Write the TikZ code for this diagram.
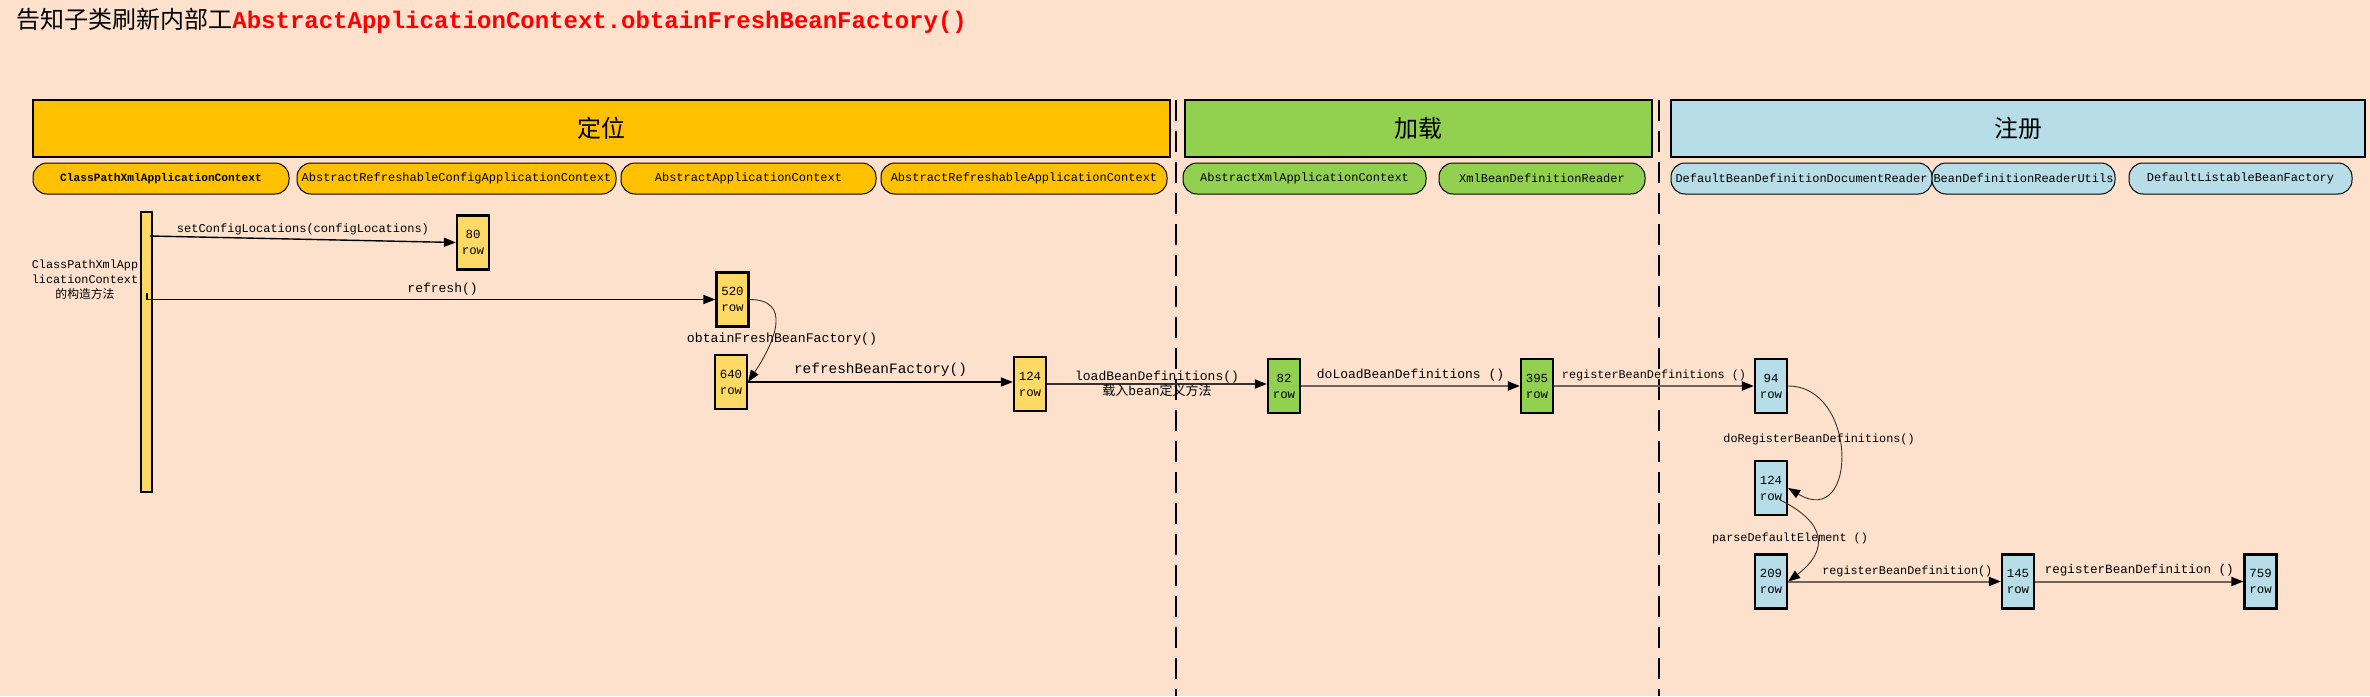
\documentclass[tikz,border=0pt]{standalone}
\usepackage{fontspec}
\setmainfont{Liberation Mono}
\newfontfamily\cjk{Noto Sans CJK SC}
\usepackage{tikz}
\usetikzlibrary{arrows.meta,positioning}
\definecolor{paper}{RGB}{253,225,205}
\definecolor{gold}{RGB}{255,192,0}
\definecolor{leaf}{RGB}{146,208,80}
\definecolor{sky}{RGB}{183,222,232}
\definecolor{pale}{RGB}{255,217,102}
\definecolor{linegray}{RGB}{110,100,95}
\definecolor{curvegray}{RGB}{55,50,45}

\begin{document}
\begin{tikzpicture}[
  x=0.5pt, y=-0.5pt,
  every node/.style={align=center,inner sep=0pt},
  phase/.style={draw,line width=.7pt,minimum height=28.5pt,font=\cjk\fontsize{12}{14}\selectfont},
  actor/.style={draw,line width=.5pt,rounded corners=7pt,minimum height=15.5pt,font=\fontsize{6}{7}\selectfont},
  call/.style={draw,line width=1.1pt,minimum width=16pt,minimum height=27pt,font=\fontsize{6.2}{8}\selectfont},
  lifeline/.style={draw,line width=1pt,fill=pale,minimum width=5.5pt,minimum height=140pt},
  to/.style={-{Triangle[length=6pt,width=4.5pt,color=black]},line width=.7pt},
  togray/.style={to,draw=linegray,line width=1pt},
  curve/.style={-{Triangle[length=6pt,width=4.5pt,color=black]},line width=.45pt,draw=curvegray},
  divider/.style={line width=1pt,dash pattern=on 10.5pt off 5pt},
  lbl/.style={font=\fontsize{6}{7.5}\selectfont}]

  \fill[paper] (0,0) rectangle (2370,696);
  \useasboundingbox (0,0) rectangle (2370,696);

  % Title
  \node[anchor=west,font=\fontsize{12}{14}\selectfont] (title) at (16,21)
    {{\cjk 告知子类刷新内部工}\textcolor{red}{\bfseries AbstractApplicationContext.obtainFreshBeanFactory()}};

  % Phases and the classes of each phase
  \node[phase,fill=gold,minimum width=568.5pt] (locate) at (601.5,128.5) {定位};
  \node[phase,fill=leaf,minimum width=233.5pt] (load) at (1418.5,128.5) {加载};
  \node[phase,fill=sky,minimum width=347pt] (register) at (2018,128.5) {注册};

  \node[actor,fill=gold,minimum width=128pt,font=\bfseries\fontsize{5.6}{7}\selectfont] (CPXAC) at (161,178.5) {ClassPathXmlApplicationContext};
  \node[actor,fill=gold,minimum width=159.5pt] (ARCAC) at (456.5,178.5) {AbstractRefreshableConfigApplicationContext};
  \node[actor,fill=gold,minimum width=127.5pt] (AAC) at (748.5,178.5) {AbstractApplicationContext};
  \node[actor,fill=gold,minimum width=143pt] (ARAC) at (1024,178.5) {AbstractRefreshableApplicationContext};
  \node[actor,fill=leaf,minimum width=121.5pt] (AXAC) at (1304.5,178.5) {AbstractXmlApplicationContext};
  \node[actor,fill=leaf,minimum width=103pt] (XBDR) at (1542,178.5) {XmlBeanDefinitionReader};
  \node[actor,fill=sky,minimum width=130.5pt] (DBDDR) at (1801.5,178.5) {DefaultBeanDefinitionDocumentReader};
  \node[actor,fill=sky,minimum width=91.5pt] (BDRU) at (2023.5,178.5) {BeanDefinitionReaderUtils};
  \node[actor,fill=sky,minimum width=111.5pt] (DLBF) at (2240.5,178.5) {DefaultListableBeanFactory};

  % Phase borders
  \draw[divider] (1176,100) -- (1176,696);
  \draw[divider] (1659,100) -- (1659,696);

  % Constructor and the called rows
  \node[lifeline] (ctor) at (146.5,352) {};
  \node[lbl,font=\fontsize{5.9}{7.5}\selectfont] (ctorlbl) at (85,280) {ClassPathXmlApp\\licationContext\\{\cjk 的构造方法}};
  \coordinate (s1) at (150,236);
  \coordinate (s2) at (147,293);

  \node[call,fill=pale] (c80) at (473,242.5) {80\\row};
  \node[call,fill=pale] (c520) at (732.5,299.5) {520\\row};
  \node[call,fill=pale] (c640) at (731,382) {640\\row};
  \node[call,fill=pale] (c124) at (1030,384) {124\\row};
  \node[call,fill=leaf] (c82) at (1284,386) {82\\row};
  \node[call,fill=leaf] (c395) at (1537,386) {395\\row};
  \node[call,fill=sky] (c94) at (1771,386) {94\\row};
  \node[call,fill=sky] (r124) at (1771,488) {124\\row};
  \node[call,fill=sky] (c209) at (1771,581.5) {209\\row};
  \node[call,fill=sky] (c145) at (2018,581.5) {145\\row};
  \node[call,fill=sky] (c759) at (2260.5,581.5) {759\\row};

  % Draw the calls between the rows and label them.
  \draw[to] (s1) -- node[lbl,above=2pt] {setConfigLocations(configLocations)} (c80.west);
  \draw[to] (s2) |- node[lbl,pos=.76,above=2pt,font=\fontsize{6.5}{7.5}\selectfont] {refresh()} (c520.west);
  \draw[curve] (c520.east) .. controls +(42,0) and +(28,-42) .. (c640.east);
  \node[lbl,font=\fontsize{6.6}{7.5}\selectfont] (obtainlbl) at (782,339) {obtainFreshBeanFactory()};
  \draw[to] (c640.east) -- node[lbl,above=2.5pt,font=\fontsize{7.2}{8}\selectfont] {refreshBeanFactory()} (c640.east -| c124.west);
  \draw[to,draw=curvegray] (c124.east) -- node[lbl,font=\fontsize{6.5}{7.5}\selectfont] {loadBeanDefinitions()\\{\cjk 载入}bean{\cjk 定义方法}} (c124.east -| c82.west);
  \draw[togray] (c82.east) -- node[lbl,above=2pt,font=\fontsize{6.5}{7.5}\selectfont] {doLoadBeanDefinitions ()} (c395.west);
  \draw[togray] (c395.east) -- node[lbl,above=2pt,font=\fontsize{5.9}{7.5}\selectfont] {registerBeanDefinitions ()} (c94.west);
  \draw[curve] (c94.east) .. controls +(70,0) and +(70,42) .. (r124.east);
  \node[lbl,font=\fontsize{5.9}{7.5}\selectfont] (doreglbl) at (1819,439) {doRegisterBeanDefinitions()};
  \draw[curve] ([xshift=-4pt,yshift=-6pt]r124.east) .. controls +(45,22) and +(42,-32) .. (c209.east);
  \node[lbl,font=\fontsize{5.9}{7.5}\selectfont] (parselbl) at (1790,538) {parseDefaultElement ()};
  \draw[togray] (c209.east) -- node[lbl,pos=.56,above=2pt,font=\fontsize{5.9}{7.5}\selectfont] {registerBeanDefinition()} (c145.west);
  \draw[togray] (c145.east) -- node[lbl,above=2pt,font=\fontsize{6.3}{7.5}\selectfont] {registerBeanDefinition ()} (c759.west);
\end{tikzpicture}
\end{document}
